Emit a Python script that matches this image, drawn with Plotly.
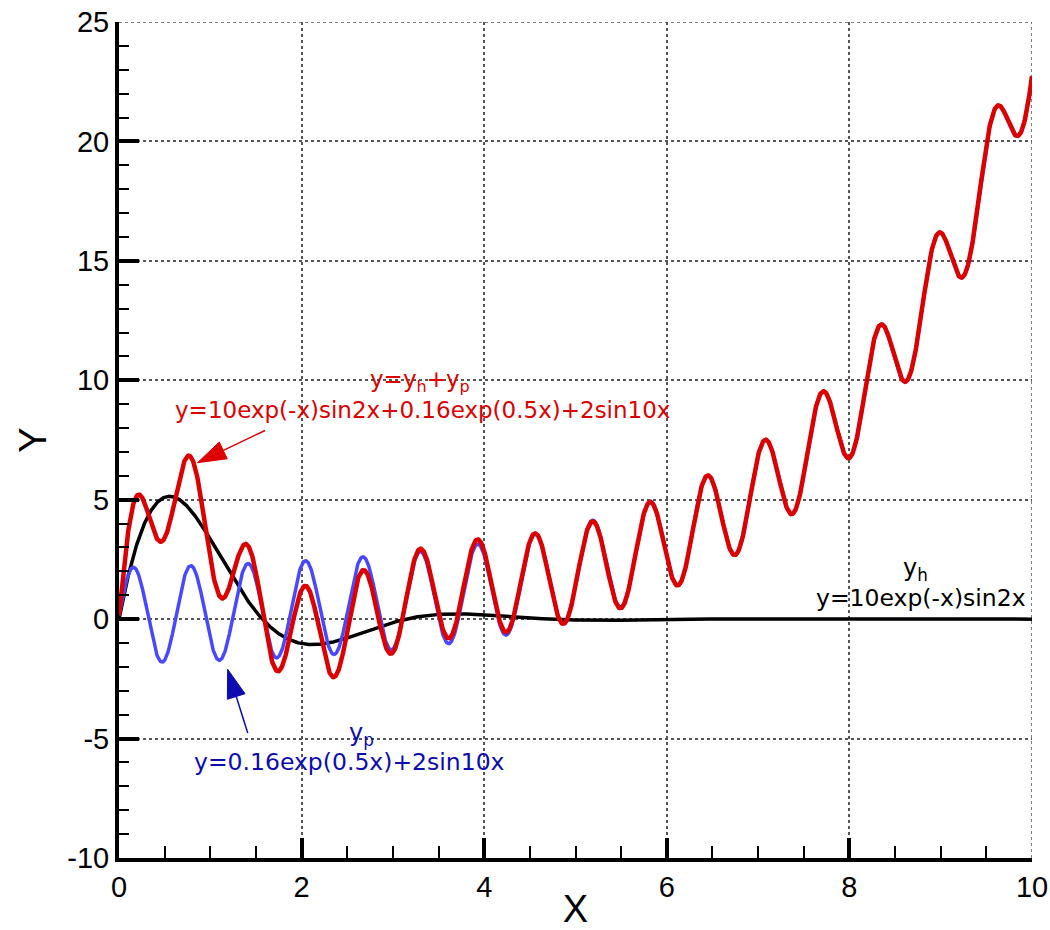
import numpy as np
import plotly.graph_objects as go

# Curve definitions, coefficients as stated in the labels
X_RANGE = [0, 10]
Y_RANGE = [-10, 25]
N_SAMPLES = 2001
YH_COEF = [10, 2]            # y_h = 10 exp(-x) sin(2x)
YP_COEF = [0.16, 0.5, 2, 10]  # y_p = 0.16 exp(0.5x) + 2 sin(10x)

# Axis ticks
X_TICKS = [0, 2, 4, 6, 8, 10]
X_TICK_TEXT = ["0", "2", "4", "6", "8", "10"]
Y_TICKS = [-10, -5, 0, 5, 10, 15, 20, 25]
Y_TICK_TEXT = ["-10", "-5", "0", "5", "10", "15", "20", "25"]

# Label texts
LBL_SUM = "y=y<sub>h</sub>+y<sub>p</sub>"
LBL_SUM_EQ = "y=10exp(-x)sin2x+0.16exp(0.5x)+2sin10x"
LBL_H = "y<sub>h</sub>"
LBL_H_EQ = "y=10exp(-x)sin2x"
LBL_P = "y<sub>p</sub>"
LBL_P_EQ = "y=0.16exp(0.5x)+2sin10x"

x = np.linspace(X_RANGE[0], X_RANGE[1], N_SAMPLES)
yh = YH_COEF[0] * np.exp(-x) * np.sin(YH_COEF[1] * x)
yp = YP_COEF[0] * np.exp(YP_COEF[1] * x) + YP_COEF[2] * np.sin(YP_COEF[3] * x)
y = yh + yp

RED = "#dd0000"
BLUE_LINE = "#4848ff"
BLUE_TEXT = "#0c0cb0"
BLACK = "#000000"
GRID = "#555555"

fig = go.Figure()

# Dotted frame lines along the top and right edges of the plot area
fig.add_shape(type="line", x0=X_RANGE[0], x1=X_RANGE[1], y0=Y_RANGE[1], y1=Y_RANGE[1],
              xref="x", yref="y", line=dict(color=GRID, width=1.5, dash="dot"), layer="below")
fig.add_shape(type="line", x0=X_RANGE[1], x1=X_RANGE[1], y0=Y_RANGE[0], y1=Y_RANGE[1],
              xref="x", yref="y", line=dict(color=GRID, width=1.5, dash="dot"), layer="below")

fig.add_trace(go.Scatter(x=x, y=yh, mode="lines", line=dict(color=BLACK, width=3.5), showlegend=False))
fig.add_trace(go.Scatter(x=x, y=yp, mode="lines", line=dict(color=BLUE_LINE, width=3.5), showlegend=False))
fig.add_trace(go.Scatter(x=x, y=y, mode="lines", line=dict(color=RED, width=4.5), showlegend=False))

LABEL_FONT = "DejaVu Sans"
LABEL_SIZE = 23

def text_label(tx, ty, text, color, size=LABEL_SIZE):
    fig.add_annotation(x=tx, y=ty, xref="x", yref="y", text=text, showarrow=False,
                       font=dict(family=LABEL_FONT, size=size, color=color),
                       xanchor="center", yanchor="middle")

text_label(3.30, 9.95, LBL_SUM, RED)
text_label(3.32, 8.74, LBL_SUM_EQ, RED)
text_label(8.72, 2.08, LBL_H, BLACK, 24)
text_label(8.78, 0.88, LBL_H_EQ, BLACK, 23.5)
text_label(2.66, -4.85, LBL_P, BLUE_TEXT, 24)
text_label(2.53, -5.98, LBL_P_EQ, BLUE_TEXT, 23.5)

# Pointer arrows: thin shaft with a long narrow head at the target point
def pointer(tail, head, color):
    fig.add_trace(go.Scatter(
        x=[tail[0], head[0]], y=[tail[1], head[1]], mode="lines+markers",
        line=dict(color=color, width=1.5),
        marker=dict(symbol="arrow", size=[0, 30], color=color, opacity=1,
                    angleref="previous", line=dict(width=1, color=color)),
        opacity=1, showlegend=False, hoverinfo="skip"))

pointer((1.6, 7.9), (0.86, 6.55), RED)
pointer((1.41, -4.77), (1.19, -2.1), BLUE_TEXT)

axis_common = dict(
    showline=True, linecolor="black", linewidth=4,
    ticks="inside", ticklen=20, tickwidth=4, tickcolor="black",
    showgrid=True, gridcolor=GRID, griddash="dot", gridwidth=1.5,
    zeroline=False,
    tickfont=dict(family="Liberation Sans, Arial", size=29, color="black"),
    title_font=dict(family="Liberation Sans, Arial", size=38, color="black"),
)

fig.update_xaxes(range=X_RANGE, tickvals=X_TICKS, ticktext=X_TICK_TEXT, title_text="X",
                 title_standoff=8,
                 minor=dict(ticks="inside", ticklen=12, tickwidth=1.5, tickcolor="black",
                            dtick=0.5, showgrid=False),
                 **axis_common)
fig.update_yaxes(range=Y_RANGE, tickvals=Y_TICKS, ticktext=Y_TICK_TEXT, title_text="Y",
                 title_standoff=10,
                 minor=dict(ticks="inside", ticklen=10, tickwidth=1.5, tickcolor="black",
                            dtick=1, showgrid=False),
                 **axis_common)

fig.update_layout(
    width=1050, height=930,
    margin=dict(l=119, r=18, t=22, b=72, autoexpand=False),
    plot_bgcolor="white", paper_bgcolor="white",
)

fig.write_html("out.html")
